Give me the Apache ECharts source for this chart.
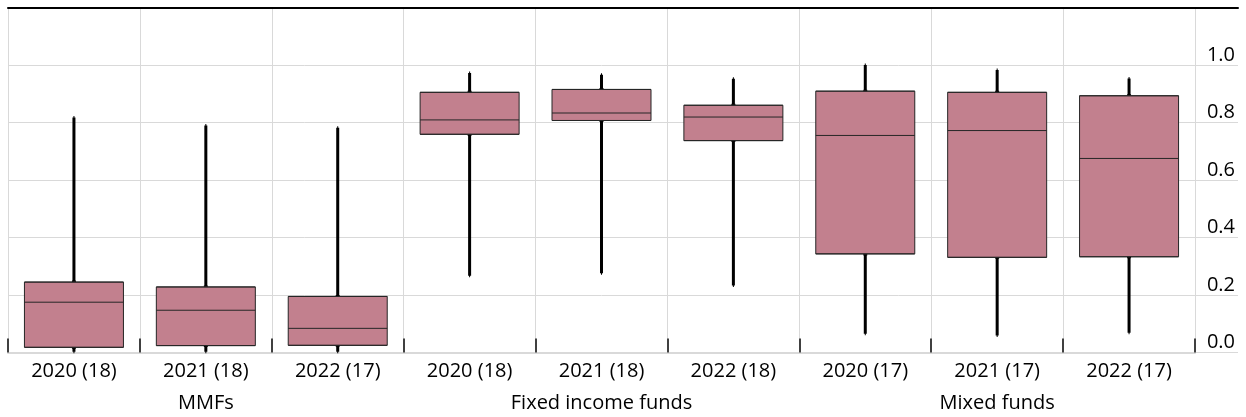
<!DOCTYPE html>
<html>
<head>
<meta charset="utf-8">
<script src="https://cdn.jsdelivr.net/npm/echarts@6/dist/echarts.min.js"></script>
<style>
html,body{margin:0;padding:0;background:#fff;}
#chart{width:1246px;height:417px;}
</style>
</head>
<body>
<div id="chart"></div>
<script>
var categories = ['2020 (18)','2021 (18)','2022 (17)','2020 (18)','2021 (18)','2022 (18)','2020 (17)','2021 (17)','2022 (17)'];
var groups = ['MMFs','Fixed income funds','Mixed funds'];
var mins    = [0.003, 0.003, 0.003, 0.267, 0.276, 0.233, 0.065, 0.059, 0.069];
var q1s     = [0.018, 0.024, 0.025, 0.759, 0.807, 0.737, 0.343, 0.331, 0.333];
var medians = [0.175, 0.147, 0.084, 0.809, 0.833, 0.819, 0.755, 0.772, 0.675];
var q3s     = [0.245, 0.228, 0.195, 0.905, 0.915, 0.860, 0.909, 0.905, 0.893];
var maxs    = [0.817, 0.790, 0.782, 0.972, 0.966, 0.952, 1.000, 0.983, 0.953];
var yTickLabels = ['0.0','0.2','0.4','0.6','0.8','1.0'];

var whiskerData = categories.map(function(c,i){ return [mins[i], q1s[i], medians[i], q3s[i], maxs[i]]; });
var boxData = categories.map(function(c,i){ return [q1s[i], q1s[i], medians[i], q3s[i], q3s[i]]; });

var FONT = 'Open Sans';
var chart = echarts.init(document.getElementById('chart'), null, {renderer:'canvas'});
var gridTop = 7.5, gridBottom = 64.5;
chart.setOption({
  animation: false,
  textStyle: {fontFamily: FONT},
  grid: [
    {left: 8, right: 51, top: gridTop, bottom: gridBottom, containLabel: false},
    {left: 1195, right: 8, top: gridTop, bottom: gridBottom, containLabel: false}
  ],
  xAxis: [
    {type:'category', gridIndex:0, data: categories, position:'bottom',
     axisLine:{show:true, onZero:false, lineStyle:{color:'#d9d9d9', width:2}},
     axisTick:{show:true, inside:true, length:14, lineStyle:{color:'#404040', width:2}},
     axisLabel:{color:'#000', fontSize:20, fontFamily:FONT, margin:9, interval:0},
     splitLine:{show:true, lineStyle:{color:'#d9d9d9', width:1}}},
    {type:'category', gridIndex:0, data: categories, position:'top',
     axisLine:{show:true, onZero:false, lineStyle:{color:'#000', width:2}},
     axisTick:{show:false}, axisLabel:{show:false}, splitLine:{show:false}},
    {type:'category', gridIndex:0, data: groups, position:'bottom', offset:32,
     axisLine:{show:false, onZero:false}, axisTick:{show:false},
     axisLabel:{color:'#000', fontSize:20, fontFamily:FONT, margin:9, interval:0},
     splitLine:{show:false}},
    {type:'value', gridIndex:1, min:0, max:1, position:'top',
     axisLine:{show:true, onZero:false, lineStyle:{color:'#000', width:2}},
     axisTick:{show:false}, axisLabel:{show:false}, splitLine:{show:false}}
  ],
  yAxis: [
    {type:'value', gridIndex:0, min:0, max:1.2, interval:0.2,
     axisLine:{show:false}, axisTick:{show:false}, axisLabel:{show:false},
     splitLine:{show:true, lineStyle:{color:'#d9d9d9', width:1}}},
    {type:'value', gridIndex:1, min:0, max:1.2, interval:0.2, position:'right',
     axisLine:{show:false, onZero:false}, axisTick:{show:false},
     axisLabel:{show:true, inside:true, align:'right', verticalAlign:'bottom', margin:3,
       color:'#000', fontSize:20, fontFamily:FONT,
       formatter:function(v){ var k = Math.round(v/0.2); return yTickLabels[k] !== undefined ? yTickLabels[k] : ''; }},
     splitLine:{show:true, lineStyle:{color:'#d9d9d9', width:1}}}
  ],
  series: [
    {type:'boxplot', name:'whiskers', xAxisIndex:1, yAxisIndex:0, data: whiskerData,
     boxWidth:[1,1], z:2,
     itemStyle:{color:'#000', borderColor:'#000', borderWidth:3},
     emphasis:{disabled:true}, silent:true},
    {type:'boxplot', name:'boxes', xAxisIndex:0, yAxisIndex:0, data: boxData,
     boxWidth:[99,99], z:3,
     itemStyle:{color:'#C2808E', borderColor:'#262626', borderWidth:1},
     emphasis:{disabled:true}, silent:true}
  ]
});
</script>
</body>
</html>
